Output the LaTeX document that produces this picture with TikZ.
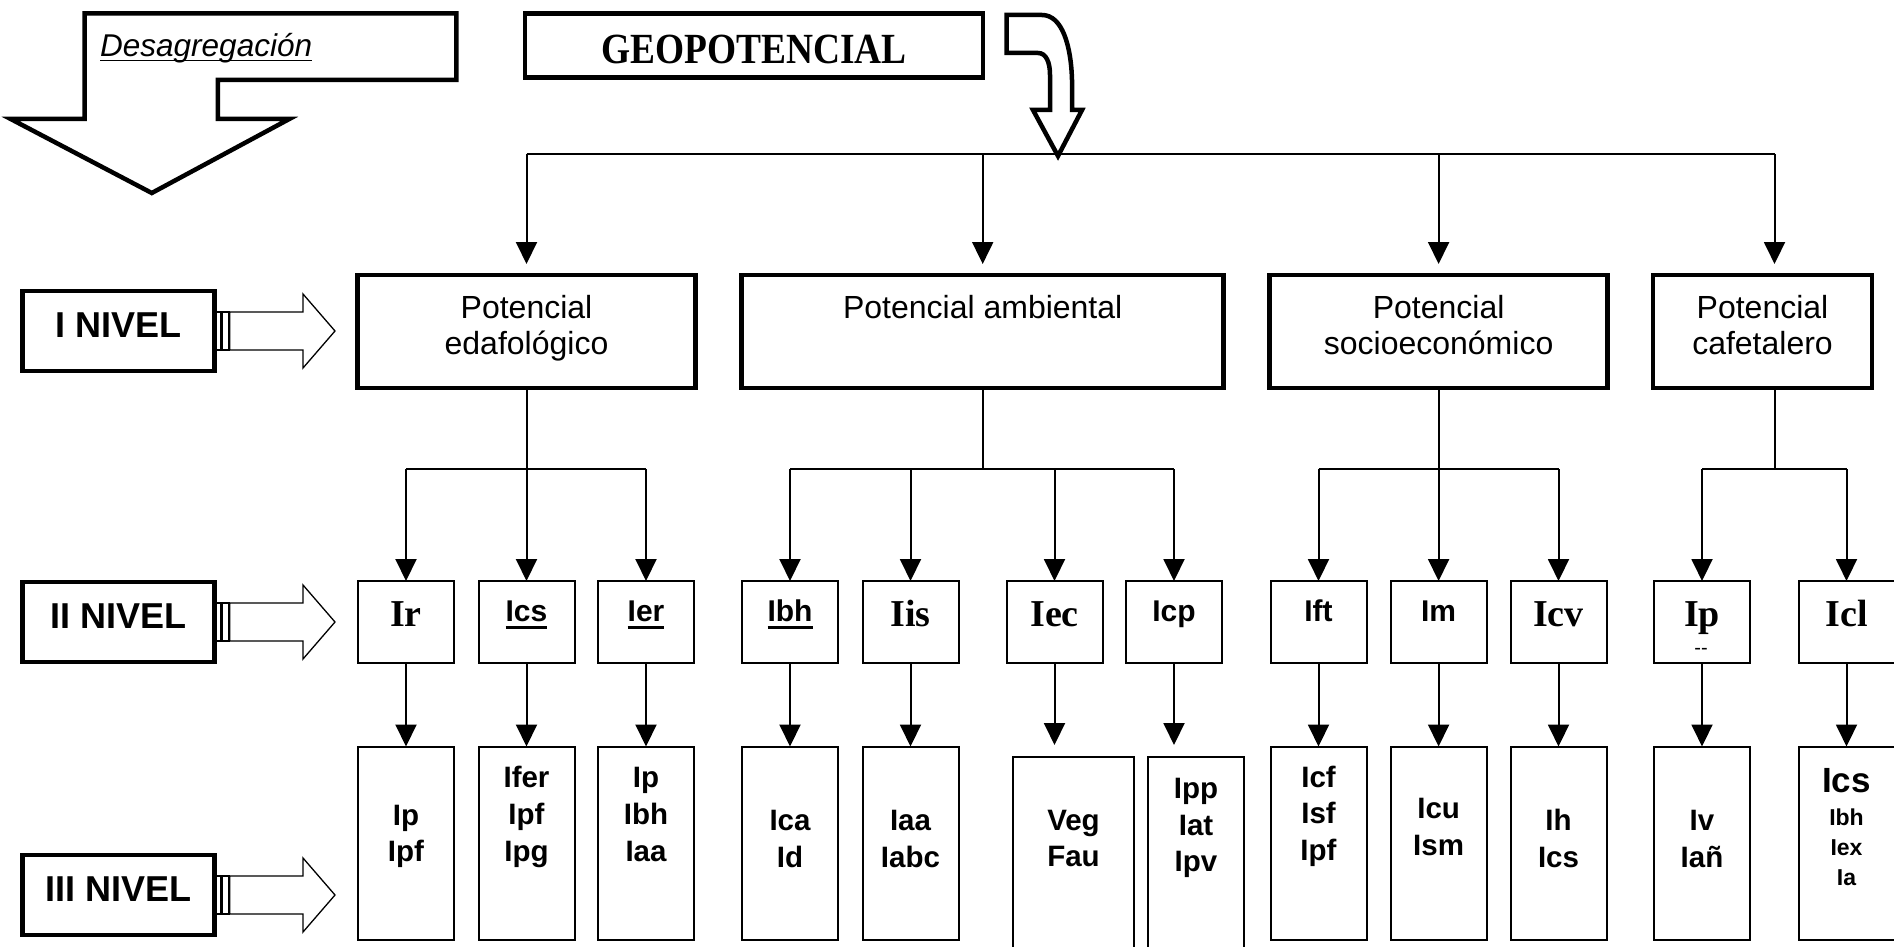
\documentclass[tikz,border=0pt]{standalone}
\usepackage{fontspec}
\setmainfont{Liberation Sans}
\newfontfamily\tnr{Liberation Serif}
\usetikzlibrary{arrows.meta,calc}
% underline: {depth}{thickness}{text}
\newcommand{\myul}[3]{\setbox0\hbox{#3}\rlap{\rule[-#1]{\wd0}{#2}}\box0}
\begin{document}
\begin{tikzpicture}[x=1pt,y=-1pt,
  thick box/.style={draw, line width=4.5pt, inner sep=0pt, outer sep=0pt},
  thin box/.style={draw, line width=2pt, inner sep=0pt, outer sep=0pt},
  l2box/.style={thin box, minimum width=96pt, minimum height=82pt},
  l3box/.style={thin box, minimum width=96pt, minimum height=193pt},
  conn/.style={line width=2pt},
  arr/.style={conn, -{Triangle[width=21pt,length=22pt]}},
  l1txt/.style={anchor=base, inner sep=0pt, font={\fontsize{32}{36}\selectfont}},
  l2t/.style={anchor=base, inner sep=0pt, font={\tnr\bfseries\fontsize{38}{40}\selectfont}},
  l2a/.style={anchor=base, inner sep=0pt, font={\bfseries\fontsize{30}{32}\selectfont}},
  l3/.style={anchor=base, inner sep=0pt, font={\bfseries\fontsize{29.5}{32}\selectfont}},
  lvl/.style={anchor=base, inner sep=0pt, font={\bfseries\fontsize{36}{40}\selectfont}},
  fat/.style={line width=1.3pt, line join=miter},
]
\fill[white] (0,0) rectangle (1894,947);
\useasboundingbox (0,0) rectangle (1894,947);

% Desagregacion arrow
\draw[line width=4.5pt, line join=miter] (84.6,13.5) -- (456.4,13.5) -- (456.4,80) -- (217.9,80) -- (217.9,119) -- (289.3,119) -- (151.8,193) -- (10.7,119) -- (84.6,119) -- cycle;
\node[anchor=base west, inner sep=0pt, font={\itshape\fontsize{31.5}{34}\selectfont}] (desag) at (100,57) {\myul{4.5pt}{1.8pt}{Desagregación}};

% GEOPOTENCIAL
\node[thick box, minimum width=458pt, minimum height=64pt] (geo) at (754,45.3) {};
\node[anchor=base, inner sep=0pt, font={\tnr\bfseries\fontsize{43}{45}\selectfont}] (geotxt) at (754,63.5) {\scalebox{0.87}[1]{GEOPOTENCIAL}};

% curved arrow
\draw[line width=4.5pt, line join=miter] (1006.7,15) -- (1042,15) .. controls (1062,15) and (1071,45) .. (1072,80) -- (1072,110) -- (1082,110) -- (1058,156) -- (1033,110) -- (1050,110) -- (1050,75) .. controls (1050,62) and (1046,53) .. (1038,53) -- (1006.7,53) -- cycle;

% Level 1 boxes
\node[thick box, minimum width=338pt, minimum height=113pt] (edaf) at (526.5,331.5) {};
\node[thick box, minimum width=482pt, minimum height=113pt] (amb) at (982.7,331.5) {};
\node[thick box, minimum width=338pt, minimum height=113pt] (soc) at (1438.6,331.5) {};
\node[thick box, minimum width=219pt, minimum height=113pt] (caf) at (1762.5,331.5) {};

\node[l1txt] (t1a) at (526.5,318) {Potencial};
\node[l1txt] (t1b) at (526.5,354) {edafológico};
\node[l1txt] (t2) at (982.7,318) {Potencial ambiental};
\node[l1txt] (t3a) at (1438.6,318) {Potencial};
\node[l1txt] (t3b) at (1438.6,354) {socioeconómico};
\node[l1txt] (t4a) at (1762.5,318) {Potencial};
\node[l1txt] (t4b) at (1762.5,354) {cafetalero};

% bus
\coordinate (b1) at (526.5,154);
\coordinate (b4) at (1774.5,154);
\draw[conn] (b1) -- (b4);
\draw[arr, shorten >=11pt] (b1) -- (edaf.north);
\draw[arr, shorten >=11pt] (b1 -| amb.north) -- (amb.north);
\draw[arr, shorten >=11pt] (b1 -| soc.north) -- (soc.north);
\draw[arr, shorten >=11pt] (b4) -- (b4 |- caf.north);

% Level 2 boxes
\node[l2box] (Ir)  at (406,622) {};
\node[l2box] (Ics) at (526.5,622) {};
\node[l2box] (Ier) at (646,622) {};
\node[l2box] (Ibh) at (790,622) {};
\node[l2box] (Iis) at (910.5,622) {};
\node[l2box] (Iec) at (1054.5,622) {};
\node[l2box] (Icp) at (1174,622) {};
\node[l2box] (Ift) at (1318.5,622) {};
\node[l2box] (Im)  at (1438.6,622) {};
\node[l2box] (Icv) at (1558.5,622) {};
\node[l2box] (Ip)  at (1702,622) {};
\node[l2box] (Icl) at (1846.5,622) {};

\node[l2t] (tIr)  at (406,626.7) {Ir};
\node[l2a] (tIcs) at (526.5,621.7) {\myul{7pt}{3pt}{Ics}};
\node[l2a] (tIer) at (646,621.7) {\myul{7pt}{3pt}{Ier}};
\node[l2a] (tIbh) at (790,621.7) {\myul{7pt}{3pt}{Ibh}};
\node[l2t] (tIis) at (910.5,626.7) {Iis};
\node[l2t] (tIec) at (1054.5,626.7) {Iec};
\node[l2a] (tIcp) at (1174,621.7) {Icp};
\node[l2a] (tIft) at (1318.5,621.7) {Ift};
\node[l2a] (tIm)  at (1438.6,621.7) {Im};
\node[l2t] (tIcv) at (1558.5,626.7) {Icv};
\node[l2t] (tIp)  at (1702,626.7) {Ip};
\node[inner sep=0pt, font={\fontsize{20}{22}\selectfont}] (tIpd) at (1701,651.5) {-{}-};
\node[l2t] (tIcl) at (1846.5,626.7) {Icl};

% Level 1 -> Level 2 connectors
\coordinate (je) at (526.5,469);
\draw[conn] (edaf.south) -- (je);
\draw[conn] (Ir.north |- je) -- (Ier.north |- je);
\draw[arr] (Ir.north |- je) -- (Ir.north);
\draw[arr] (je) -- (Ics.north);
\draw[arr] (Ier.north |- je) -- (Ier.north);

\coordinate (ja) at (982.7,469);
\draw[conn] (amb.south) -- (ja);
\draw[conn] (Ibh.north |- ja) -- (Icp.north |- ja);
\draw[arr] (Ibh.north |- ja) -- (Ibh.north);
\draw[arr] (Iis.north |- ja) -- (Iis.north);
\draw[arr] (Iec.north |- ja) -- (Iec.north);
\draw[arr] (Icp.north |- ja) -- (Icp.north);

\coordinate (js) at (1438.6,469);
\draw[conn] (soc.south) -- (js);
\draw[conn] (Ift.north |- js) -- (Icv.north |- js);
\draw[arr] (Ift.north |- js) -- (Ift.north);
\draw[arr] (js) -- (Im.north);
\draw[arr] (Icv.north |- js) -- (Icv.north);

\coordinate (jc) at (1774.5,469);
\draw[conn] (b4 |- caf.south) -- (jc);
\draw[conn] (Ip.north |- jc) -- (Icl.north |- jc);
\draw[arr] (Ip.north |- jc) -- (Ip.north);
\draw[arr] (Icl.north |- jc) -- (Icl.north);

% Level 3 boxes
\node[l3box] (Ir3)  at (406,843) {};
\node[l3box] (Ics3) at (526.5,843) {};
\node[l3box] (Ier3) at (646,843) {};
\node[l3box] (Ibh3) at (790,843) {};
\node[l3box] (Iis3) at (910.5,843) {};
\node[thin box, minimum width=120.5pt, minimum height=220pt] (Iec3) at (1073.5,867) {};
\node[thin box, minimum width=96.5pt, minimum height=220pt] (Icp3) at (1196,867) {};
\node[l3box] (Ift3) at (1318.5,843) {};
\node[l3box] (Im3)  at (1438.6,843) {};
\node[l3box] (Icv3) at (1558.5,843) {};
\node[l3box] (Ip3)  at (1702,843) {};
\node[l3box] (Icl3) at (1846.5,843) {};

% Level 2 -> Level 3
\draw[arr] (Ir.south) -- (Ir3.north);
\draw[arr] (Ics.south) -- (Ics3.north);
\draw[arr] (Ier.south) -- (Ier3.north);
\draw[arr] (Ibh.south) -- (Ibh3.north);
\draw[arr] (Iis.south) -- (Iis3.north);
\draw[arr, shorten >=12pt] (Iec.south) -- (Iec.south |- Iec3.north);
\draw[arr, shorten >=12pt] (Icp.south) -- (Icp.south |- Icp3.north);
\draw[arr] (Ift.south) -- (Ift3.north);
\draw[arr] (Im.south) -- (Im3.north);
\draw[arr] (Icv.south) -- (Icv3.north);
\draw[arr] (Ip.south) -- (Ip3.north);
\draw[arr] (Icl.south) -- (Icl3.north);

% Level 3 texts
\node[l3] (a1) at (406,825) {Ip};
\node[l3] (a2) at (406,861) {Ipf};
\node[l3] (b1t) at (526.5,787) {Ifer};
\node[l3] (b2t) at (526.5,824) {Ipf};
\node[l3] (b3t) at (526.5,861) {Ipg};
\node[l3] (c1) at (646,787) {Ip};
\node[l3] (c2) at (646,824) {Ibh};
\node[l3] (c3) at (646,861) {Iaa};
\node[l3] (d1) at (790,830) {Ica};
\node[l3] (d2) at (790,867) {Id};
\node[l3] (e1) at (910.5,830) {Iaa};
\node[l3] (e2) at (910.5,867) {Iabc};
\node[l3] (f1) at (1073.5,830) {Veg};
\node[l3] (f2) at (1073.5,866) {Fau};
\node[l3] (g1) at (1196,798) {Ipp};
\node[l3] (g2) at (1196,835) {Iat};
\node[l3] (g3) at (1196,871) {Ipv};
\node[l3] (h1) at (1318.5,787) {Icf};
\node[l3] (h2) at (1318.5,823) {Isf};
\node[l3] (h3) at (1318.5,860) {Ipf};
\node[l3] (i1) at (1438.6,818) {Icu};
\node[l3] (i2) at (1438.6,855) {Ism};
\node[l3] (k1) at (1558.5,830) {Ih};
\node[l3] (k2) at (1558.5,867) {Ics};
\node[l3] (m1) at (1702,830) {Iv};
\node[l3] (m2) at (1702,867) {Iañ};
\node[l3, font={\bfseries\fontsize{35}{38}\selectfont}] (n1) at (1846.5,792) {Ics};
\node[l3, font={\bfseries\fontsize{23}{25}\selectfont}] (n2) at (1846.5,825) {Ibh};
\node[l3, font={\bfseries\fontsize{23}{25}\selectfont}] (n3) at (1846.5,855) {Iex};
\node[l3, font={\bfseries\fontsize{23}{25}\selectfont}] (n4) at (1846.5,885) {Ia};

% Level labels with fat arrows
\foreach \cy/\nm in {331/I,622/II,895/III}{
  \node[thick box, minimum width=192pt, minimum height=80pt] (lv\nm) at (118.4,\cy) {};
  \node[lvl] (lt\nm) at (118.4,\cy+6) {\nm\ NIVEL};
  \draw[fat] (216.8,\cy-19) rectangle (221,\cy+19);
  \draw[fat] (222,\cy-19) rectangle (229,\cy+19);
  \draw[fat] (229.8,\cy-19) -- (303,\cy-19) -- (303,\cy-37) -- (335,\cy) -- (303,\cy+37) -- (303,\cy+19) -- (229.8,\cy+19) -- cycle;
}
\end{tikzpicture}
\end{document}
